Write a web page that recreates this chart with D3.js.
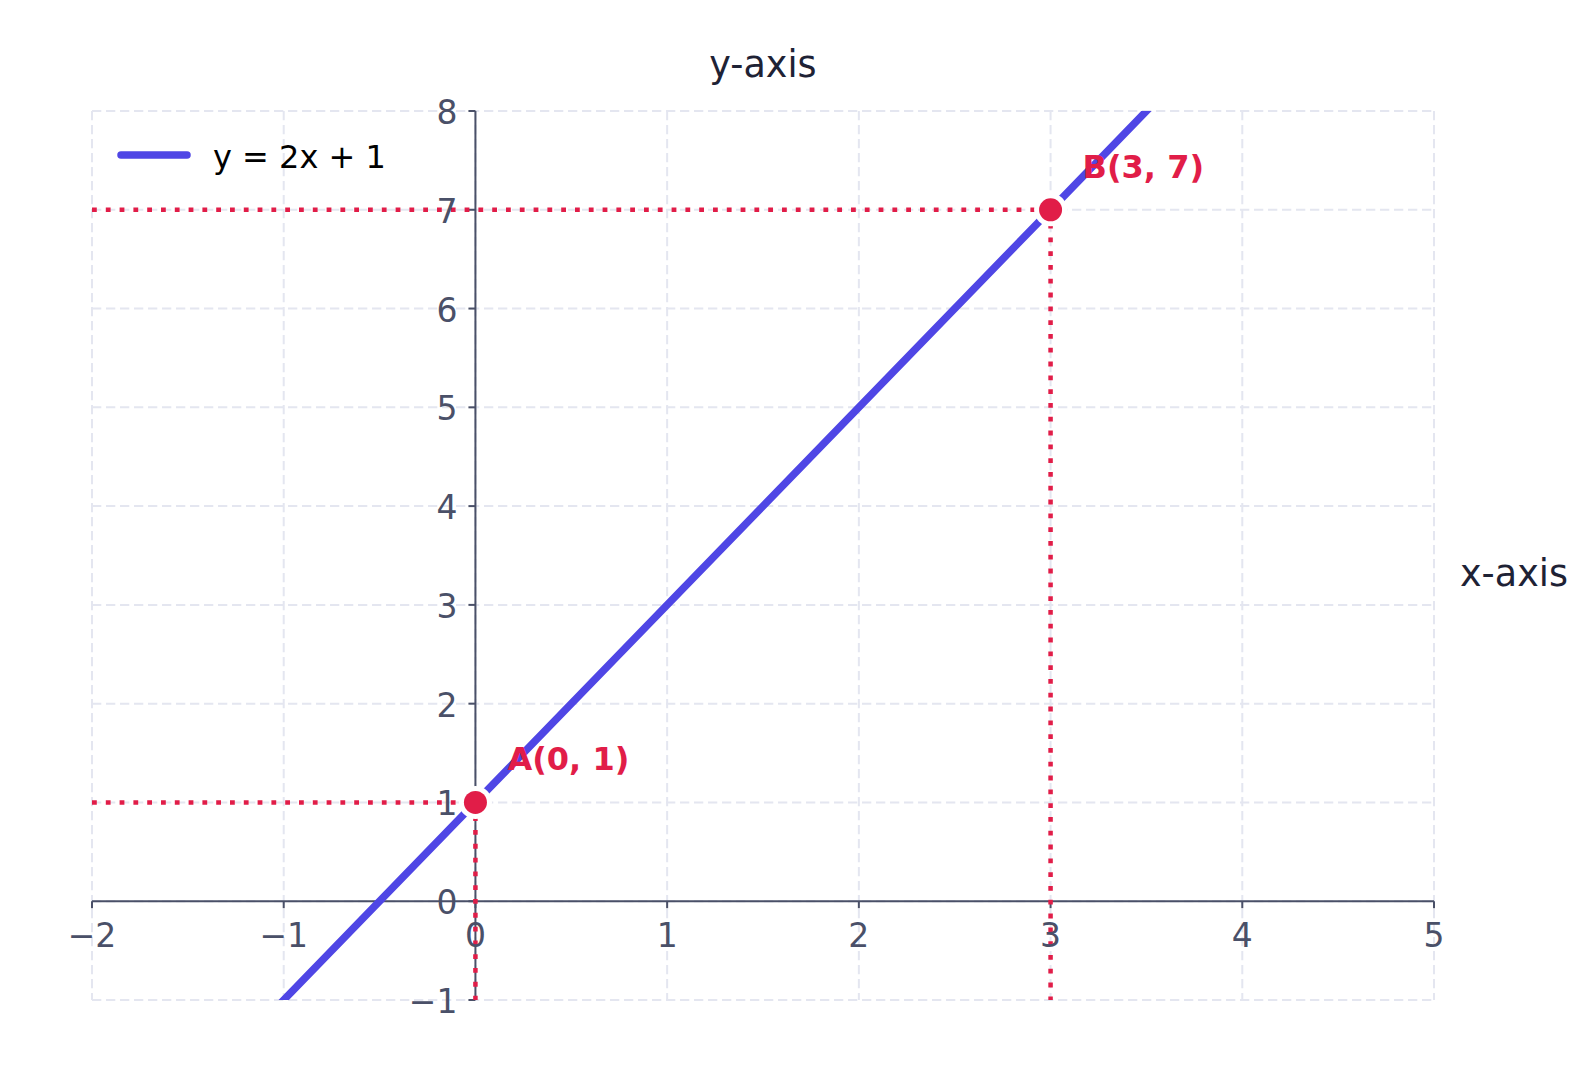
<!DOCTYPE html>
<html><head><meta charset="utf-8">
<script src="https://cdn.jsdelivr.net/npm/d3@7"></script>
<style>html,body{margin:0;padding:0;background:#fff;} svg{display:block;font-family:"DejaVu Sans",sans-serif;}</style>
</head><body>
<svg id="c" width="1581" height="1086"></svg>
<script>
const xTicks = [-2, -1, 0, 1, 2, 3, 4, 5];
const yTicks = [-1, 0, 1, 2, 3, 4, 5, 6, 7, 8];
const xDomain = [-2, 5];
const yDomain = [-1, 8];
const lineX = [-2, 0, 3, 5];
const lineY = [-3, 1, 7, 11];
const lineLabel = "y = 2x + 1";
const pointNames = ["A(0, 1)", "B(3, 7)"];
const pointX = [0, 3];
const pointY = [1, 7];

const svg = d3.select("#c");
const L = 92, R = 1434, T = 111, B = 1000;
const x = d3.scaleLinear().domain(xDomain).range([L, R]);
const y = d3.scaleLinear().domain(yDomain).range([B, T]);
const gridCol = "#e4e6f0", spineCol = "#4a5068", tickCol = "#4a5068", red = "#e11d48", blue = "#4f46e5";

svg.append("defs").append("clipPath").attr("id", "clip")
  .append("rect").attr("x", L).attr("y", T).attr("width", R - L).attr("height", B - T);

// grid
const g = svg.append("g");
g.selectAll("line.vx").data(xTicks).join("line")
  .attr("x1", d => x(d)).attr("x2", d => x(d)).attr("y1", T).attr("y2", B)
  .attr("stroke", gridCol).attr("stroke-width", 2).attr("stroke-dasharray", "9.3,4.7");
g.selectAll("line.hy").data(yTicks).join("line")
  .attr("y1", d => y(d)).attr("y2", d => y(d)).attr("x1", L).attr("x2", R)
  .attr("stroke", gridCol).attr("stroke-width", 2).attr("stroke-dasharray", "9.3,4.7");

// spines at zero
svg.append("line").attr("x1", L).attr("x2", R).attr("y1", y(0)).attr("y2", y(0))
  .attr("stroke", spineCol).attr("stroke-width", 2);
svg.append("line").attr("x1", x(0)).attr("x2", x(0)).attr("y1", T).attr("y2", B)
  .attr("stroke", spineCol).attr("stroke-width", 2);

// ticks
svg.selectAll("line.xt").data(xTicks).join("line")
  .attr("x1", d => x(d)).attr("x2", d => x(d)).attr("y1", y(0)).attr("y2", y(0) + 7)
  .attr("stroke", spineCol).attr("stroke-width", 2);
svg.selectAll("line.yt").data(yTicks).join("line")
  .attr("y1", d => y(d)).attr("y2", d => y(d)).attr("x1", x(0)).attr("x2", x(0) - 7)
  .attr("stroke", spineCol).attr("stroke-width", 2);

const fmt = d => d < 0 ? "\u2212" + Math.abs(d) : String(d);

// dotted guide lines
const guides = svg.append("g");
pointX.forEach((px, i) => {
  guides.append("line").attr("x1", x(xDomain[0])).attr("x2", x(px)).attr("y1", y(pointY[i])).attr("y2", y(pointY[i]))
    .attr("stroke", red).attr("stroke-width", 4.5).attr("stroke-dasharray", "4.8,9");
  guides.append("line").attr("x1", x(px)).attr("x2", x(px)).attr("y1", y(pointY[i])).attr("y2", y(yDomain[0]))
    .attr("stroke", red).attr("stroke-width", 4.5).attr("stroke-dasharray", "4.8,9");
});

// tick labels
svg.selectAll("text.xl").data(xTicks).join("text")
  .attr("x", d => x(d)).attr("y", y(0) + 46).attr("text-anchor", "middle")
  .attr("font-size", 33).attr("fill", tickCol).text(fmt);
svg.selectAll("text.yl").data(yTicks).join("text")
  .attr("x", x(0) - 18).attr("y", d => y(d) + 13).attr("text-anchor", "end")
  .attr("font-size", 33).attr("fill", tickCol).text(fmt);

// main line
const lineData = lineX.map((v, i) => [v, lineY[i]]);
svg.append("path").datum(lineData).attr("clip-path", "url(#clip)")
  .attr("d", d3.line().x(d => x(d[0])).y(d => y(d[1])))
  .attr("fill", "none").attr("stroke", blue).attr("stroke-width", 7.5);

// points
svg.selectAll("circle.h").data(pointX).join("circle")
  .attr("cx", d => x(d)).attr("cy", (d, i) => y(pointY[i])).attr("r", 16.5)
  .attr("fill", "#fff");
svg.selectAll("circle.p").data(pointX).join("circle")
  .attr("cx", d => x(d)).attr("cy", (d, i) => y(pointY[i])).attr("r", 11.5)
  .attr("fill", red);
svg.selectAll("text.pl").data(pointNames).join("text")
  .attr("x", (d, i) => x(pointX[i]) + 32).attr("y", (d, i) => y(pointY[i]) - 32)
  .attr("font-size", 32).attr("font-weight", "bold").attr("fill", red).text(d => d);

// axis titles
svg.append("text").attr("x", (L + R) / 2).attr("y", 77).attr("text-anchor", "middle")
  .attr("font-size", 36.5).attr("fill", "#1e2235").text("y-axis");
svg.append("text").attr("x", 1460).attr("y", 586)
  .attr("font-size", 36.5).attr("fill", "#1e2235").text("x-axis");

// legend
svg.append("line").attr("x1", 121).attr("x2", 187).attr("y1", 155).attr("y2", 155)
  .attr("stroke", blue).attr("stroke-width", 7.5).attr("stroke-linecap", "round");
svg.append("text").attr("x", 213).attr("y", 168).attr("font-size", 32).attr("fill", "#000").text(lineLabel);
</script>
</body></html>
